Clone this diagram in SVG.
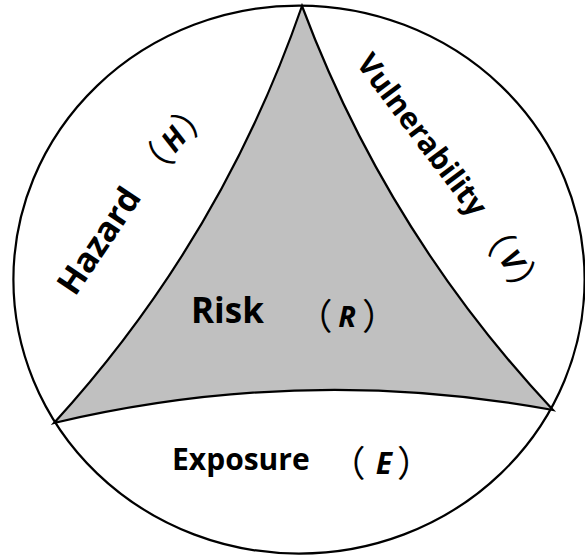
<svg xmlns="http://www.w3.org/2000/svg" width="585" height="558" viewBox="0 0 585 558">
<style>
.ln{stroke:#000;stroke-width:2.2;fill:none}
.lbl{font-family:"Open Sans","Noto Sans CJK SC",sans-serif;font-weight:700;fill:#000}
.par{font-family:"Noto Sans CJK SC","Noto Sans",sans-serif;font-weight:400;fill:#000;font-size:36px}
.it{font-family:"Open Sans","Noto Sans CJK SC",sans-serif;font-weight:700;font-style:italic;fill:#000}
</style>
<rect width="585" height="558" fill="#fff"/>
<g id="circle">
<ellipse cx="299" cy="279.6" rx="285.6" ry="274" fill="#fff" class="ln"/>
</g>
<g id="risk">
<path d="M302,6 Q387,233 553,410 Q304,364 54,423 Q221,240 302,6 Z" fill="#c0c0c0" stroke="#000" stroke-width="2.2" stroke-linejoin="miter"/>
<text class="lbl" x="191" y="323" font-size="35">Risk</text>
<text class="par" x="332.5" y="330" text-anchor="end">（</text>
<text class="it" x="347" y="327" font-size="29" text-anchor="middle">R</text>
<text class="par" x="362" y="330">）</text>
</g>
<g id="hazard">
<text class="lbl" transform="translate(74.9,297.3) rotate(-56)" x="0" y="0" font-size="34">Hazard</text>
<g transform="translate(173.5,139) rotate(-50)">
<text class="par" x="-14" y="13.7" text-anchor="end">（</text>
<text class="it" x="0" y="10.7" font-size="30" text-anchor="middle">H</text>
<text class="par" x="13" y="13.7">）</text>
</g>
</g>
<g id="vulnerability">
<text class="lbl" transform="translate(355.5,63.6) rotate(53)" x="0" y="0" font-size="30">Vulnerability</text>
<g transform="translate(512,260) rotate(55)">
<text class="par" x="-13" y="13.7" text-anchor="end">（</text>
<text class="it" x="0" y="10.7" font-size="30" text-anchor="middle">V</text>
<text class="par" x="11" y="13.7">）</text>
</g>
</g>
<g id="exposure">
<text class="lbl" x="172" y="470" font-size="30">Exposure</text>
<text class="par" x="365.5" y="477" text-anchor="end">（</text>
<text class="it" x="384" y="474" font-size="30" text-anchor="middle">E</text>
<text class="par" x="397" y="477">）</text>
</g>
</svg>
